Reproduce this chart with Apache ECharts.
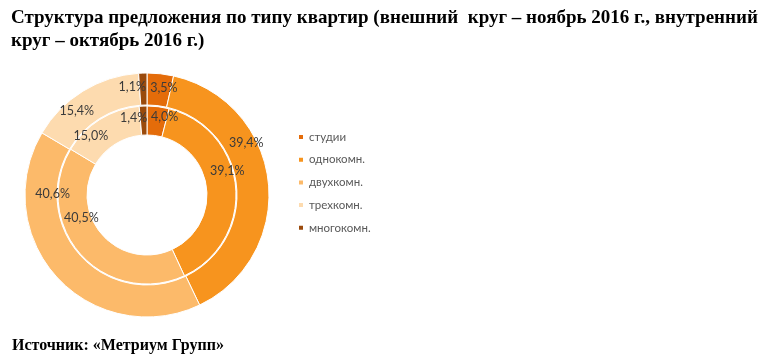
<!DOCTYPE html>
<html><head><meta charset="utf-8">
<script src="https://cdn.jsdelivr.net/npm/echarts/dist/echarts.min.js"></script>
<style>html,body{margin:0;padding:0;background:#fff}#c{width:772px;height:358px}</style>
</head><body><div id="c"></div>
<script>
const categories = ['студии', 'однокомн.', 'двухкомн.', 'трехкомн.', 'многокомн.'];
const outerValues = [3.5, 39.4, 40.6, 15.4, 1.1]; // внешний круг – ноябрь 2016
const innerValues = [4.0, 39.1, 40.5, 15.0, 1.4]; // внутренний круг – октябрь 2016
const titleText = 'Структура предложения по типу квартир (внешний  круг – ноябрь 2016 г., внутренний\nкруг – октябрь 2016 г.)';
const sourceText = 'Источник: «Метриум Групп»';

const colors = ['#E46C0A', '#F7941E', '#FCBA6A', '#FDDBAF', '#9A4A0C'];
const outerLabelShift = [[5, 1], [-9, -40], [-14, -75], [-13, 9], [-11, 1]];
const innerLabelShift = [[8, -1], [3, -17], [-8, -29], [-15, 7], [-10, 0]];

const fmt = p => p.value.toFixed(1).replace('.', ',') + '%';
const labelStyle = {show: true, position: 'inside', formatter: fmt, color: '#3a3a3a', fontFamily: 'Lato', fontSize: 12.5};

function ring(name, values, radius, shifts) {
  return {
    type: 'pie', name: name, radius: radius, center: [147, 195],
    startAngle: 90, clockwise: true, avoidLabelOverlap: false, silent: true,
    itemStyle: {borderColor: '#fff', borderWidth: 1},
    label: labelStyle, labelLine: {show: false},
    labelLayout: p => ({dx: shifts[p.dataIndex][0], dy: shifts[p.dataIndex][1]}),
    emphasis: {disabled: true},
    data: categories.map((c, i) => ({name: c, value: values[i], itemStyle: {color: colors[i]}}))
  };
}

const chart = echarts.init(document.getElementById('c'), null, {renderer: 'canvas'});
chart.setOption({
  animation: false,
  backgroundColor: '#fff',
  title: [
    {text: titleText, left: 6, top: 2, textStyle: {fontFamily: 'Liberation Serif', fontWeight: 'bold', fontSize: 19, lineHeight: 23, color: '#000'}},
    {text: sourceText, left: 7, top: 333, textStyle: {fontFamily: 'Liberation Serif', fontWeight: 'bold', fontSize: 16, color: '#000'}}
  ],
  legend: {
    orient: 'vertical', left: 292, top: 125, icon: 'rect', itemWidth: 6, itemHeight: 6, itemGap: 8.7,
    data: categories,
    textStyle: {fontFamily: 'Lato', fontSize: 11.5, color: '#595959', lineHeight: 14}
  },
  series: [
    ring('октябрь 2016', innerValues, [60, 89], innerLabelShift),
    ring('ноябрь 2016', outerValues, [90, 122], outerLabelShift)
  ]
});
</script></body></html>
